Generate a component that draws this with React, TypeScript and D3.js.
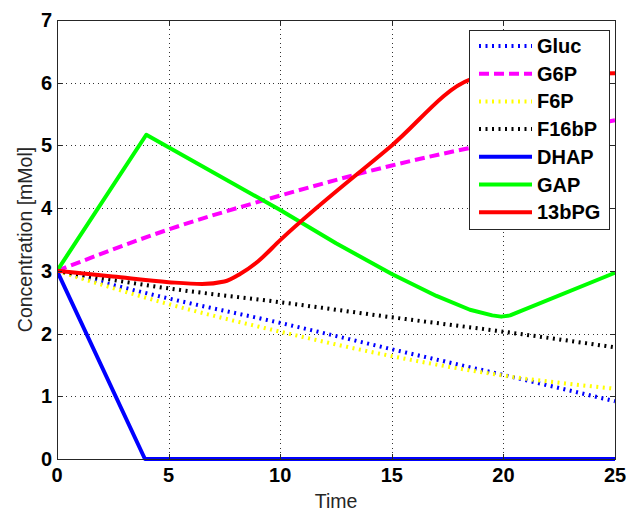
import React from "react";
import * as d3 from "d3";

const W = 626;
const H = 512;

// ---- data ----
const xTicks = [0, 5, 10, 15, 20, 25];
const yTicks = [0, 1, 2, 3, 4, 5, 6, 7];

const glucT = [0, 5, 10, 15, 20, 25];
const glucV = [3, 2.56, 2.17, 1.75, 1.34, 0.92];

const g6pT = [0, 5, 10, 15, 20, 25];
const g6pV = [3, 3.66, 4.2, 4.68, 5.07, 5.4];

const f6pT = [0, 5, 10, 15, 20, 25];
const f6pV = [3, 2.47, 2.03, 1.64, 1.33, 1.12];

const f16bpT = [0, 5, 10, 15, 20, 25];
const f16bpV = [3, 2.72, 2.5, 2.26, 2.03, 1.78];

const dhapT = [0, 3.94, 25];
const dhapV = [3, 0, 0];

const gapT = [0, 4, 10, 12.5, 15, 17, 18.5, 19.5, 19.9, 20.3, 25];
const gapV = [3, 5.17, 3.97, 3.44, 2.95, 2.6, 2.38, 2.29, 2.27, 2.29, 2.97];

const bpgT = [0, 2.5, 5, 6.5, 7.5, 8.2, 9, 10, 15, 18.5, 19.3, 25];
const bpgV = [3, 2.91, 2.82, 2.79, 2.83, 2.95, 3.15, 3.49, 5.0, 6.05, 6.12, 6.15];

const seriesNames = ["Gluc", "G6P", "F6P", "F16bP", "DHAP", "GAP", "13bPG"];
const seriesT = [glucT, g6pT, f6pT, f16bpT, dhapT, gapT, bpgT];
const seriesV = [glucV, g6pV, f6pV, f16bpV, dhapV, gapV, bpgV];
const seriesColor = ["#0000ff", "#ff00ff", "#ffff00", "#000000", "#0000ff", "#00ff00", "#ff0000"];
const seriesDash = ["2 4.5", "10 5", "2 4.5", "2 4.5", null, null, null];
const seriesWidth = [4, 4, 4, 4, 4, 4, 4];
const seriesCurve = ["mono", "mono", "mono", "mono", "linear", "linear", "mono"];

const M = { left: 57, right: 615, top: 20, bottom: 459 };

export default function App() {
  const x = d3.scaleLinear().domain([0, 25]).range([M.left, M.right]);
  const y = d3.scaleLinear().domain([0, 7]).range([M.bottom, M.top]);
  const font = "'Liberation Sans', Arial, sans-serif";

  const paths = seriesNames.map((name, i) => {
    const pts = seriesT[i].map((t, j) => [t, seriesV[i][j]] as [number, number]);
    const gen = d3
      .line<[number, number]>()
      .x((d) => x(d[0]))
      .y((d) => y(d[1]))
      .curve(seriesCurve[i] === "mono" ? d3.curveMonotoneX : d3.curveLinear);
    return gen(pts) || "";
  });

  const legX = 469;
  const legY = 30;
  const legW = 140;
  const legH = 199;
  const rowY0 = 46;
  const rowStep = 27.7;

  return (
    <svg
      width={W}
      height={H}
      style={{ position: "absolute", left: 0, top: 0, display: "block", background: "#fff" }}
    >
      <rect x={0} y={0} width={W} height={H} fill="#fff" />
      <defs>
        <clipPath id="plotclip">
          <rect x={M.left} y={M.top - 2} width={M.right - M.left + 2} height={M.bottom - M.top + 4} />
        </clipPath>
      </defs>
      {/* grid */}
      <g stroke="#333" strokeWidth={1} strokeDasharray="1 3.5" shapeRendering="crispEdges">
        {xTicks.slice(1, -1).map((t) => (
          <line key={"gx" + t} x1={Math.round(x(t)) + 0.5} x2={Math.round(x(t)) + 0.5} y1={M.top} y2={M.bottom} />
        ))}
        {yTicks.slice(1, -1).map((t) => (
          <line key={"gy" + t} x1={M.left} x2={M.right} y1={Math.round(y(t)) + 0.5} y2={Math.round(y(t)) + 0.5} />
        ))}
      </g>
      {/* series */}
      <g clipPath="url(#plotclip)" fill="none">
        {paths.map((p, i) => (
          <path
            key={seriesNames[i]}
            d={p}
            stroke={seriesColor[i]}
            strokeWidth={seriesWidth[i]}
            strokeDasharray={seriesDash[i] || undefined}
            strokeLinejoin="round"
          />
        ))}
      </g>
      {/* axes box */}
      <rect
        x={M.left + 0.5}
        y={M.top + 0.5}
        width={M.right - M.left}
        height={M.bottom - M.top}
        fill="none"
        stroke="#262626"
        strokeWidth={1}
        shapeRendering="crispEdges"
      />
      {/* ticks */}
      <g stroke="#262626" strokeWidth={1} shapeRendering="crispEdges">
        {xTicks.map((t) => (
          <g key={"tx" + t}>
            <line x1={Math.round(x(t)) + 0.5} x2={Math.round(x(t)) + 0.5} y1={M.bottom} y2={M.bottom - 5} />
            <line x1={Math.round(x(t)) + 0.5} x2={Math.round(x(t)) + 0.5} y1={M.top} y2={M.top + 5} />
          </g>
        ))}
        {yTicks.map((t) => (
          <g key={"ty" + t}>
            <line x1={M.left} x2={M.left + 5} y1={Math.round(y(t)) + 0.5} y2={Math.round(y(t)) + 0.5} />
            <line x1={M.right} x2={M.right - 5} y1={Math.round(y(t)) + 0.5} y2={Math.round(y(t)) + 0.5} />
          </g>
        ))}
      </g>
      {/* tick labels */}
      <g fontFamily={font} fontSize={20} fontWeight="bold" fill="#000">
        {xTicks.map((t) => (
          <text key={"lx" + t} x={x(t)} y={482} textAnchor="middle">
            {t}
          </text>
        ))}
        {yTicks.map((t) => (
          <text key={"ly" + t} x={52} y={y(t) + 7} textAnchor="end">
            {t}
          </text>
        ))}
      </g>
      {/* axis titles */}
      <text x={(M.left + M.right) / 2} y={508} textAnchor="middle" fontFamily={font} fontSize={19.5} fill="#262626">
        Time
      </text>
      <text
        transform={`translate(32,${(M.top + M.bottom) / 2}) rotate(-90)`}
        textAnchor="middle"
        fontFamily={font}
        fontSize={19.5}
        fill="#262626"
      >
        Concentration [mMol]
      </text>
      {/* legend */}
      <rect
        x={legX + 0.5}
        y={legY + 0.5}
        width={legW}
        height={legH}
        fill="#fff"
        stroke="#262626"
        strokeWidth={1}
        shapeRendering="crispEdges"
      />
      {seriesNames.map((name, i) => {
        const cy = rowY0 + i * rowStep;
        return (
          <g key={"leg" + name}>
            <line
              x1={479}
              x2={532}
              y1={cy}
              y2={cy}
              stroke={seriesColor[i]}
              strokeWidth={seriesWidth[i]}
              strokeDasharray={seriesDash[i] || undefined}
            />
            <text x={537} y={cy + 7} fontFamily={font} fontSize={20} fontWeight="bold" fill="#000">
              {name}
            </text>
          </g>
        );
      })}
    </svg>
  );
}
